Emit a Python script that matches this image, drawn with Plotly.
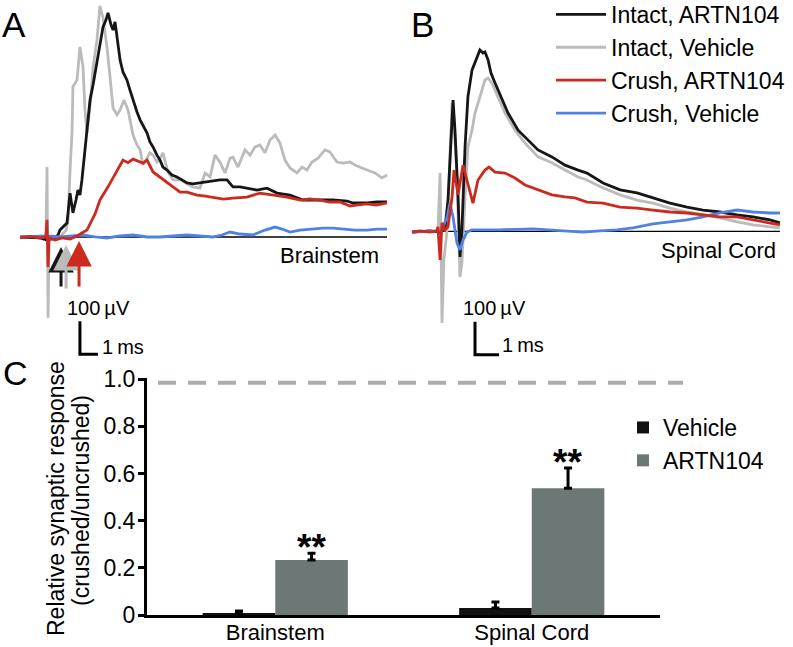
import plotly.graph_objects as go

# ---------------- DATA ----------------
# Panel A (Brainstem): (time ms, potential uV)
intact_artn_A = [(0,0),(1.11,-3),(1.5,-9),(1.94,-3),(2.11,6),(2.22,21),(2.44,33),(2.61,42),(2.78,133),(2.94,73),
    (3.11,112),(3.22,142),(3.33,127),(3.44,173),(3.61,264),(3.78,355),(3.89,415),(4.06,461),(4.28,536),(4.44,591),
    (4.61,636),(4.78,658),(4.89,679),(5.06,642),(5.17,627),(5.28,652),(5.39,606),(5.56,536),(5.72,500),(5.94,476),
    (6.11,445),(6.28,415),(6.5,379),(6.67,355),(6.89,330),(7.06,315),(7.22,288),(7.39,273),(7.61,248),(7.78,233),
    (7.94,212),(8.17,203),(8.44,188),(8.72,182),(9.0,173),(9.28,164),(9.61,161),(10.0,164),(10.56,167),(11.11,173),
    (11.5,173),(11.83,152),(12.22,152),(12.61,148),(13.17,142),(13.72,148),(14.28,133),(15.0,127),(15.72,112),
    (16.67,112),(17.39,112),(18.17,109),(18.5,103),(19.28,103),(19.83,106),(20.39,106)]
intact_veh_A = [(0,0),(1.11,0),(1.44,0),(1.5,212),(1.56,-245),(1.61,-9),(1.78,3),(2.11,0),(2.33,6),(2.56,21),
    (2.67,52),(2.78,203),(2.89,315),(2.94,455),(3.17,476),(3.33,576),(3.5,515),(3.61,385),(3.72,315),(3.89,394),
    (4.06,515),(4.28,597),(4.44,700),(4.61,664),(4.83,576),(5.0,485),(5.17,391),(5.39,370),(5.56,385),(5.78,415),
    (6.0,385),(6.28,309),(6.5,279),(6.67,264),(6.83,218),(7.06,239),(7.22,255),(7.39,248),(7.61,227),(7.78,239),
    (7.94,255),(8.22,197),(8.5,173),(8.89,173),(9.28,161),(9.61,152),(10.0,148),(10.28,194),(10.56,182),(10.83,248),
    (11.11,227),(11.39,194),(11.67,239),(11.83,242),(12.11,212),(12.5,264),(12.78,248),(13.06,273),(13.33,279),
    (13.61,255),(13.89,294),(14.17,309),(14.44,285),(14.72,233),(15.0,209),(15.39,194),(15.67,212),(15.94,203),
    (16.22,227),(16.56,239),(16.94,264),(17.22,258),(17.61,227),(17.94,224),(18.33,227),(18.61,218),(19.0,209),
    (19.33,203),(19.72,194),(20.11,179),(20.39,188)]
crush_artn_A = [(0,-3),(0.56,2),(1.11,-3),(1.44,0),(1.5,52),(1.56,-91),(1.61,-3),(1.94,-9),(2.33,-3),(2.78,-6),
    (3.17,3),(3.72,21),(4.17,70),(4.44,112),(4.89,152),(5.39,203),(5.72,233),(6.0,225),(6.28,236),(6.83,224),
    (7.06,233),(7.39,197),(7.8,180),(8.17,164),(8.89,136),(9.28,136),(9.83,127),(10.3,124),(10.72,121),(11.3,115),
    (11.83,118),(12.61,121),(13.33,133),(14.06,127),(14.83,121),(15.56,112),(16.1,115),(16.67,112),(17.2,106),
    (17.78,106),(18.33,94),(18.8,97),(19.28,100),(19.8,97),(20.39,103)]
crush_veh_A = [(0,0),(1.5,3),(2.22,0),(2.78,3),(3.5,6),(4.17,0),(4.83,-3),(5.56,3),(6.28,6),(7.06,0),(7.78,0),
    (8.5,3),(9.28,6),(10.0,3),(10.72,0),(11.22,6),(11.67,15),(12.22,9),(12.94,6),(13.61,21),(14.17,30),(14.56,24),
    (15.0,15),(15.56,21),(16.28,24),(16.83,27),(17.39,27),(18.06,24),(18.61,21),(19.28,21),(19.83,24),(20.39,24)]

# Panel B (Spinal Cord)
intact_artn_B = [(0,-2),(0.75,2),(1.17,-2),(1.375,11),(1.5,95),(1.58,208),(1.71,398),(1.79,307),(1.92,105),(2.0,-77),
    (2.08,5),(2.21,256),(2.33,408),(2.5,489),(2.71,529),(2.83,550),(2.96,541),(3.04,544),(3.17,520),(3.29,480),
    (3.46,450),(3.75,398),(4.0,359),(4.42,307),(4.83,277),(5.25,247),(5.83,226),(6.375,201),(6.92,186),(7.29,177),
    (7.96,147),(8.67,126),(9.375,117),(10.04,102),(10.75,86),(11.46,74),(12.125,65),(12.83,59),(13.54,50),
    (14.21,44),(14.92,35),(15.33,26)]
intact_veh_B = [(0,-2),(0.75,2),(1.08,-2),(1.17,177),(1.25,-277),(1.33,-86),(1.46,5),(1.58,247),(1.67,389),
    (1.75,338),(1.875,156),(2.0,-138),(2.08,-95),(2.21,105),(2.33,256),(2.5,307),(2.625,359),(2.83,408),(3.04,459),
    (3.17,465),(3.33,450),(3.58,408),(3.875,359),(4.29,307),(4.71,268),(5.25,226),(5.83,208),(6.375,186),(6.92,165),
    (7.29,156),(7.96,132),(8.67,111),(9.375,95),(10.04,86),(10.75,71),(11.46,59),(12.125,50),(12.83,41),(13.54,29),
    (14.21,20),(14.92,14),(15.33,11)]
crush_artn_B = [(0,-2),(0.33,2),(0.75,-2),(1.04,2),(1.08,14),(1.17,-86),(1.25,26),(1.375,5),(1.5,14),(1.67,105),
    (1.75,186),(1.92,111),(2.125,201),(2.33,147),(2.54,86),(2.75,156),(3.04,186),(3.21,195),(3.46,180),(3.875,177),
    (4.29,162),(4.71,141),(5.25,126),(5.83,111),(6.375,105),(6.79,102),(7.29,89),(7.96,86),(8.67,74),(9.375,71),
    (10.04,65),(10.75,59),(11.46,56),(12.125,50),(12.83,44),(13.54,44),(14.21,35),(14.92,26),(15.33,20)]
crush_veh_B = [(0,-2),(1.17,2),(1.25,5),(1.46,44),(1.58,86),(1.71,44),(1.875,-35),(2.0,-56),(2.125,-26),(2.29,-2),
    (2.5,5),(3.67,5),(5.04,8),(6.46,2),(7.125,-2),(7.83,2),(8.54,5),(9.21,11),(9.71,17),(10.04,23),(10.75,29),
    (11.46,35),(12.125,44),(12.83,56),(13.54,65),(14.21,59),(14.92,56),(15.33,56)]

# Response onset latencies marked with arrows in panel A (ms)
onset_A = {"Intact, ARTN104": 2.28, "Intact, Vehicle": 2.56, "Crush, ARTN104": 3.28}

# Panel C bar chart
regions = ["Brainstem", "Spinal Cord"]
vehicle_mean = [0.005, 0.03]
vehicle_err = [0.012, 0.025]
artn_mean = [0.233, 0.538]
artn_err = [0.029, 0.085]
reference_level = 0.985
tick_vals = [0, 0.2, 0.4, 0.6, 0.8, 1.0]
tick_text = ["0", "0.2", "0.4", "0.6", "0.8", "1.0"]

SCALE_MS = 1
SCALE_UV = 100

# ---------------- STYLE ----------------
FONT = "Liberation Sans, Arial, sans-serif"
NARROW = "Liberation Sans Narrow, Arial Narrow, Liberation Sans, Arial, sans-serif"
C_BLACK = "#161616"
C_GRAY = "#b9bcbb"
C_RED = "#cc2a1f"
C_BLUE = "#4f82e4"
C_BAR_GRAY = "#6c7876"
LW = 2.8

series = [
    ("Intact, Vehicle", C_GRAY, intact_veh_A, intact_veh_B, 2),
    ("Intact, ARTN104", C_BLACK, intact_artn_A, intact_artn_B, 1),
    ("Crush, Vehicle", C_BLUE, crush_veh_A, crush_veh_B, 4),
    ("Crush, ARTN104", C_RED, crush_artn_A, crush_artn_B, 3),
]

fig = go.Figure()

# zero baselines
for data, xa, ya in [(intact_artn_A, "x", "y"), (intact_artn_B, "x2", "y2")]:
    t = [p[0] for p in data]
    fig.add_trace(go.Scatter(x=[t[0], t[-1]], y=[0, 0], mode="lines", xaxis=xa, yaxis=ya,
                             line=dict(color="black", width=1.3), showlegend=False, hoverinfo="skip"))

for name, col, dA, dB, rank in series:
    fig.add_trace(go.Scatter(x=[p[0] for p in dA], y=[p[1] for p in dA], mode="lines", name=name,
                             line=dict(color=col, width=LW), xaxis="x", yaxis="y",
                             legend="legend", legendrank=rank, legendgroup=name))
    fig.add_trace(go.Scatter(x=[p[0] for p in dB], y=[p[1] for p in dB], mode="lines", name=name,
                             line=dict(color=col, width=LW), xaxis="x2", yaxis="y2",
                             showlegend=False, legendgroup=name))

# scale bars
for xa, ya, t0, v0 in [("x", "y", 3.33, -355), ("x2", "y2", 2.625, -374)]:
    fig.add_trace(go.Scatter(x=[t0, t0, t0 + SCALE_MS], y=[v0 + SCALE_UV, v0, v0], mode="lines",
                             xaxis=xa, yaxis=ya, line=dict(color="black", width=3),
                             showlegend=False, hoverinfo="skip"))

# bars
fig.add_trace(go.Bar(x=regions, y=vehicle_mean, name="Vehicle", marker=dict(color="#111111", line=dict(width=0)),
                     error_y=dict(type="data", array=vehicle_err, arrayminus=[0, 0], symmetric=False,
                                  color="black", thickness=3, width=4),
                     xaxis="x3", yaxis="y3", legend="legend2"))
fig.add_trace(go.Bar(x=regions, y=artn_mean, name="ARTN104", marker=dict(color=C_BAR_GRAY, line=dict(width=0)),
                     error_y=dict(type="data", array=artn_err, arrayminus=[0, 0], symmetric=False,
                                  color="black", thickness=3, width=4),
                     xaxis="x3", yaxis="y3", legend="legend2"))

W, H = 793, 647
ann = []
def paper_text(txt, px, row, size, **kw):
    d = dict(text=txt, x=px / W, y=1 - row / H, xref="paper", yref="paper", showarrow=False,
             font=dict(family=FONT, size=size, color="black"), xanchor="center", yanchor="middle")
    d.update(kw)
    ann.append(d)

paper_text("A", 14, 25, 35)
paper_text("B", 422.5, 25, 35)
paper_text("C", 15, 373, 34)
paper_text("Relative synaptic response", 56, 499, 23, textangle=-90)
paper_text("(crushed/uncrushed)", 81, 501, 23, textangle=-90)

# panel texts in data coords
ann.append(dict(text="Brainstem", x=20.06, y=-55, xref="x", yref="y", showarrow=False, xanchor="right",
                yanchor="middle", font=dict(family=FONT, size=22, color="black")))
ann.append(dict(text="Spinal Cord", x=15.25, y=-59, xref="x2", yref="y2", showarrow=False, xanchor="right",
                yanchor="middle", font=dict(family=FONT, size=22, color="black")))
ann.append(dict(text="100\u2009µV", x=2.5, y=-215, xref="x", yref="y", showarrow=False, xanchor="left",
                yanchor="middle", font=dict(family=FONT, size=20, color="black")))
ann.append(dict(text="1\u2009ms", x=4.44, y=-333, xref="x", yref="y", showarrow=False, xanchor="left",
                yanchor="middle", font=dict(family=FONT, size=20, color="black")))
ann.append(dict(text="100\u2009µV", x=2.04, y=-232, xref="x2", yref="y2", showarrow=False, xanchor="left",
                yanchor="middle", font=dict(family=FONT, size=20, color="black")))
ann.append(dict(text="1\u2009ms", x=3.67, y=-344, xref="x2", yref="y2", showarrow=False, xanchor="left",
                yanchor="middle", font=dict(family=FONT, size=20, color="black")))

# onset arrows
arrow_cols = {"Intact, ARTN104": C_BLACK, "Intact, Vehicle": C_GRAY, "Crush, ARTN104": C_RED}
tips = {"Intact, ARTN104": (-30, 41), "Intact, Vehicle": (-24, 45), "Crush, ARTN104": (-12, 47)}
for name in ["Intact, ARTN104", "Intact, Vehicle", "Crush, ARTN104"]:
    v, ay = tips[name]
    ann.append(dict(x=onset_A[name], y=v, xref="x", yref="y", ax=0, ay=ay, showarrow=True, text="",
                    arrowhead=2, arrowsize=1.7, arrowwidth=3, arrowcolor=arrow_cols[name]))

# significance stars
for reg, m, e in zip(regions, artn_mean, artn_err):
    ann.append(dict(text="<b>**</b>", x=reg, y=m + e + 0.024, xref="x3", yref="y3", showarrow=False,
                    xshift=36, font=dict(family=FONT, size=37, color="black"), xanchor="center", yanchor="middle"))

fig.update_layout(
    width=W, height=H, margin=dict(l=0, r=0, t=0, b=0, autoexpand=False),
    paper_bgcolor="white", plot_bgcolor="rgba(0,0,0,0)",
    font=dict(family=FONT, color="black"),
    xaxis=dict(domain=[0, 400 / W], range=[-20 / 18, 380 / 18], visible=False, anchor="y", fixedrange=True),
    yaxis=dict(domain=[0.42, 1], range=[-419.0, 718.1], visible=False, anchor="x", fixedrange=True),
    xaxis2=dict(domain=[400 / W, 1], range=[-0.5, 15.875], visible=False, anchor="y2", fixedrange=True),
    yaxis2=dict(domain=[0.42, 1], range=[-435.8, 701.5], visible=False, anchor="x2", fixedrange=True),
    xaxis3=dict(domain=[147 / W, 660 / W], range=[-0.5, 1.5], anchor="y3", showline=True, linewidth=3,
                linecolor="black", ticks="", showgrid=False, zeroline=False, automargin=False,
                ticklabelstandoff=-4, tickfont=dict(family=FONT, size=22, color="black")),
    yaxis3=dict(domain=[1 - 615 / H, 1 - 378 / H], range=[0, 1.005], anchor="x3", showline=True, linewidth=3,
                linecolor="black", ticks="outside", ticklen=6, tickwidth=2.5, tickcolor="black",
                tickvals=tick_vals, ticktext=tick_text, showgrid=False, zeroline=False, automargin=False,
                ticklabelstandoff=-2, tickfont=dict(family=NARROW, size=23, color="black")),
    barmode="group", bargap=0.434, bargroupgap=0,
    showlegend=True,
    legend=dict(x=551 / W, y=1.011, xanchor="left", yanchor="top",
                bgcolor="rgba(0,0,0,0)", font=dict(family=FONT, size=23, color="black"),
                itemwidth=50, tracegroupgap=4, traceorder="normal"),
    legend2=dict(x=623 / W, y=1 - 406 / H, xanchor="left", yanchor="top",
                 bgcolor="rgba(0,0,0,0)", font=dict(family=FONT, size=23, color="black"),
                 tracegroupgap=4, itemwidth=30),
    annotations=ann,
    shapes=[dict(type="line", xref="paper", yref="y3", x0=158 / W, x1=683 / W, y0=reference_level,
                 y1=reference_level, line=dict(color="#a9aead", width=4, dash="18px,12px"))],
)

fig.write_html("out.html", config={"displayModeBar": False},
               post_script="document.body.style.margin='0px';document.body.style.overflow='hidden';")
